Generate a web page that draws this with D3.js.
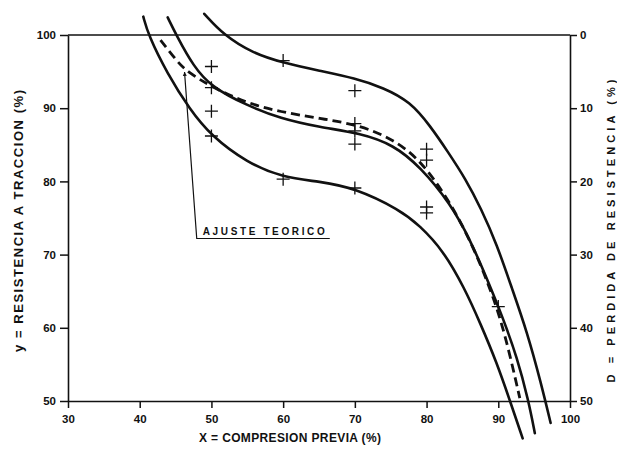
<!DOCTYPE html>
<html>
<head>
<meta charset="utf-8">
<script src="https://cdn.jsdelivr.net/npm/d3@7/dist/d3.min.js"></script>
<style>
  html, body { margin: 0; padding: 0; background: #fff; }
  svg { display: block; }
  text { font-family: "Liberation Sans", Arial, sans-serif; font-weight: bold; fill: #111; }
</style>
</head>
<body>
<svg id="chart" width="617" height="450"></svg>
<script>
// Axis ticks
const xTicks = [30, 40, 50, 60, 70, 80, 90, 100];
const yTicks = [50, 60, 70, 80, 90, 100];
const dTicks = [0, 10, 20, 30, 40, 50];

// Measured points: compresion previa (%) and resistencia a traccion (%)
const obsX = [50, 50, 50, 50, 60, 60, 70, 70, 70, 70, 70, 80, 80, 80, 80, 90];
const obsY = [95.7, 92.8, 89.6, 86.2, 96.5, 80.3, 92.4, 87.9, 86.9, 85.1, 79.1, 84.4, 82.9, 76.5, 75.7, 62.9];

// Upper band limit
const upperCurve = [[49.0,102.9],[51.7,100],[55.8,97.5],[60.0,96.2],[65.1,95.1],[70.0,94.1],[74.0,92.8],
  [77.7,90.9],[80.5,87.6],[83.0,84.0],[85.4,80.4],[87.6,76.3],[89.8,71.4],[91.9,65.4],[94.0,59.5],[96.0,52.3],[97.3,47.0]];
// Mean curve
const meanCurve = [[43.9,102.4],[45.1,100],[47.5,95.7],[50.0,92.9],[54.9,90.4],[59.6,88.6],[65.1,87.4],
  [70.7,86.6],[75.4,85.0],[79.1,82.0],[83.3,77.0],[86.1,72.0],[88.6,66.3],[90.7,61.2],[92.6,56.0],[94.2,50.1],[95.1,45.6]];
// Lower band limit
const lowerCurve = [[40.5,102.5],[41.2,100],[43.8,94.8],[47.0,89.8],[50.0,86.2],[54.9,82.6],[60.0,80.5],
  [65.1,80.0],[70.0,79.1],[76.3,76.1],[79.0,74.0],[82.3,70.6],[85.3,65.4],[87.5,60.6],[89.8,55.2],[91.6,50.1],[93.4,44.9]];
// Theoretical fit (dashed)
const fitCurve = [[42.9,99.3],[45.2,96.4],[46.6,95.0],[50.0,92.9],[54.9,90.7],[59.6,89.5],[65.1,88.6],
  [70.7,87.7],[75.4,85.7],[79.1,83.0],[83.3,77.2],[86.5,71.1],[88.6,66.0],[90.2,61.6],[91.6,56.4],[93.0,50.4]];

// Annotation: arrow tip, elbow, end of underline
const noteTip = [46.25, 94.95];
const noteElbow = [47.95, 72.2];
const noteEnd = [66.5, 72.2];
const noteText = "AJUSTE TEORICO";

const svg = d3.select("#chart");
const x = d3.scaleLinear().domain([30, 100]).range([68, 570]);
const y = d3.scaleLinear().domain([50, 100]).range([401, 35]);
const yD = d3.scaleLinear().domain([0, 50]).range([35, 401]);

function styleAxis(g) {
  g.selectAll("path.domain").attr("stroke", "#111").attr("stroke-width", 1.6);
  g.selectAll(".tick line").attr("stroke", "#111").attr("stroke-width", 1.5);
  g.selectAll(".tick text").attr("font-size", 11.5).attr("fill", "#111")
    .style("font-family", "'Liberation Sans', Arial, sans-serif").style("font-weight", "bold");
}

svg.append("g").attr("transform", "translate(0,401)")
  .call(d3.axisBottom(x).tickValues(xTicks).tickSize(7).tickSizeOuter(0).tickPadding(7))
  .call(styleAxis);
svg.append("g").attr("transform", "translate(68,0)")
  .call(d3.axisLeft(y).tickValues(yTicks).tickSize(8).tickSizeOuter(0).tickPadding(4))
  .call(styleAxis);
svg.append("g").attr("transform", "translate(570,0)")
  .call(d3.axisRight(yD).tickValues(dTicks).tickSize(7).tickSizeOuter(0).tickPadding(3))
  .call(styleAxis);

// Top frame line
svg.append("line")
  .attr("x1", x(30)).attr("x2", x(100)).attr("y1", y(100)).attr("y2", y(100))
  .attr("stroke", "#111").attr("stroke-width", 1.6);

// Axis titles
svg.append("text").attr("transform", "translate(23,221) rotate(-90)")
  .attr("text-anchor", "middle").attr("font-size", 13)
  .attr("textLength", 262).attr("lengthAdjust", "spacing")
  .text("y = RESISTENCIA A TRACCION (%)");
svg.append("text").attr("transform", "translate(614.5,231) rotate(-90)")
  .attr("text-anchor", "middle").attr("font-size", 11)
  .attr("textLength", 303).attr("lengthAdjust", "spacing")
  .text("D = PERDIDA DE RESISTENCIA (%)");
svg.append("text").attr("x", 290).attr("y", 442)
  .attr("text-anchor", "middle").attr("font-size", 12)
  .attr("textLength", 182).attr("lengthAdjust", "spacing")
  .text("X = COMPRESION PREVIA (%)");

// Curves, smoothed through the traced points
const line = d3.line().x(d => x(d[0])).y(d => y(d[1])).curve(d3.curveBasis);
[upperCurve, meanCurve, lowerCurve].forEach(c => {
  svg.append("path").attr("d", line(c)).attr("fill", "none")
    .attr("stroke", "#111").attr("stroke-width", 2.6).attr("stroke-linecap", "round");
});
svg.append("path").attr("d", line(fitCurve)).attr("fill", "none")
  .attr("stroke", "#111").attr("stroke-width", 2.8).attr("stroke-dasharray", "9,5");

// Observations as crosses
svg.append("g").selectAll("path").data(obsX.map((v, i) => [v, obsY[i]])).join("path")
  .attr("transform", d => `translate(${x(d[0])},${y(d[1])})`)
  .attr("d", "M-6.5,0H6.5M0,-6.5V6.5")
  .attr("stroke", "#111").attr("stroke-width", 1.3).attr("fill", "none");

// Annotation with leader and arrow
svg.append("defs").append("marker").attr("id", "arrow")
  .attr("viewBox", "0 0 10 10").attr("refX", 10).attr("refY", 5)
  .attr("markerWidth", 4).attr("markerHeight", 9).attr("orient", "auto")
  .attr("markerUnits", "userSpaceOnUse")
  .append("path").attr("d", "M0,0L10,5L0,10Z").attr("fill", "#111");
svg.append("path")
  .attr("d", `M${x(noteEnd[0])},${y(noteEnd[1])}H${x(noteElbow[0])}L${x(noteTip[0])},${y(noteTip[1])}`)
  .attr("fill", "none").attr("stroke", "#111").attr("stroke-width", 1.2)
  .attr("marker-end", "url(#arrow)");
svg.append("text").attr("x", x(noteElbow[0]) + 6).attr("y", y(noteEnd[1]) - 3)
  .attr("font-size", 10).attr("textLength", 122).attr("lengthAdjust", "spacing")
  .text(noteText);
</script>
</body>
</html>
